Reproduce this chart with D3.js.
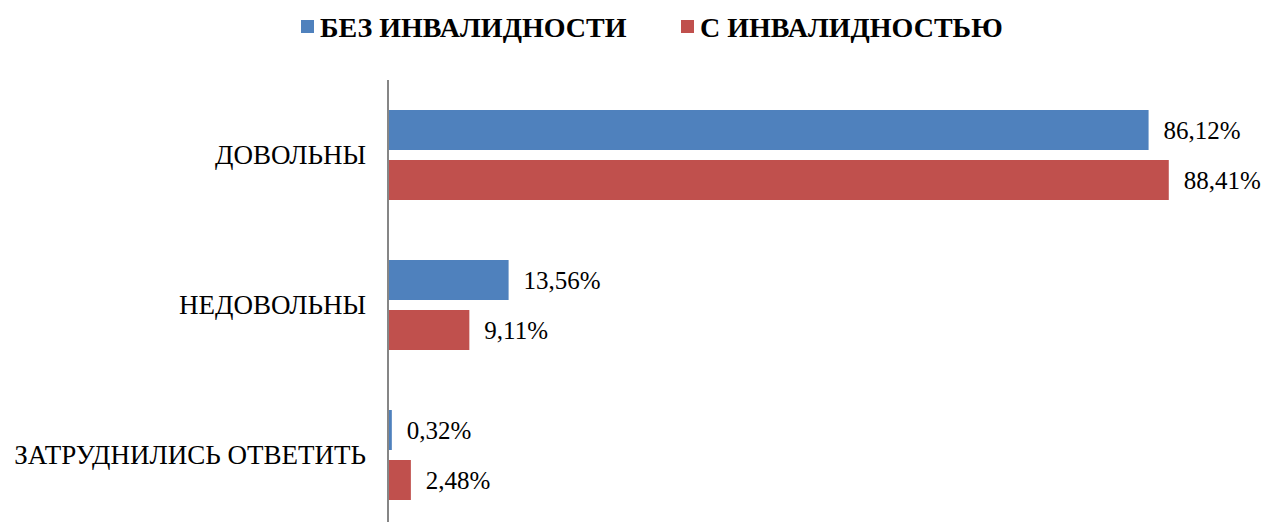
<!DOCTYPE html>
<html lang="ru">
  <head>
    <meta charset="utf-8">
    <title>Довольны / недовольны</title>
    <style>
      body { margin: 0; background: #fff; }
      svg text { font-family: 'Liberation Serif', 'Times New Roman', 'DejaVu Serif', serif; }
    </style>
  </head>
  <body>
    <div id="chart-area"></div>
    <script src="https://cdn.jsdelivr.net/npm/d3@7"></script>
    <script>
      const categories = ['ДОВОЛЬНЫ', 'НЕДОВОЛЬНЫ', 'ЗАТРУДНИЛИСЬ ОТВЕТИТЬ'];
      const series_names = ['БЕЗ ИНВАЛИДНОСТИ', 'С ИНВАЛИДНОСТЬЮ'];
      const no_disability = [86.12, 13.56, 0.32];
      const with_disability = [88.41, 9.11, 2.48];
      const colors = ['#4f81bd', '#c0504d'];

      const svg_width = 1269;
      const svg_height = 522;
      const fmt = v => v.toFixed(2).replace('.', ',') + '%';

      const data = categories.map((c, i) => ({
        cat: c,
        values: [no_disability[i], with_disability[i]]
      }));

      const svg = d3.select('#chart-area')
        .append('svg')
        .attr('width', svg_width)
        .attr('height', svg_height);

      const x_scale = d3.scaleLinear()
        .domain([0, 100])
        .range([389, 1271]);

      const y_scale = d3.scaleBand()
        .domain(categories)
        .range([80, 530]);

      const inner = d3.scaleBand()
        .domain([0, 1])
        .range([30, 120])
        .paddingInner(0.2);

      const groups = svg.selectAll('g.group').data(data).enter()
        .append('g')
        .attr('class', 'group')
        .attr('transform', d => `translate(0,${y_scale(d.cat)})`);

      groups.selectAll('rect')
        .data(d => d.values)
        .enter()
        .append('rect')
        .attr('x', x_scale(0))
        .attr('y', (d, i) => inner(i))
        .attr('width', d => x_scale(d) - x_scale(0))
        .attr('height', inner.bandwidth())
        .attr('fill', (d, i) => colors[i]);

      groups.selectAll('text.val')
        .data(d => d.values)
        .enter()
        .append('text')
        .attr('class', 'val')
        .text(d => fmt(d))
        .attr('x', d => x_scale(d) + 15)
        .attr('y', (d, i) => inner(i) + inner.bandwidth() / 2)
        .attr('dy', '0.34em')
        .attr('font-size', '25px')
        .attr('fill', '#000');

      // category labels
      svg.selectAll('text.cat').data(categories).enter()
        .append('text')
        .attr('class', 'cat')
        .text(d => d)
        .attr('x', 366)
        .attr('y', d => y_scale(d) + y_scale.bandwidth() / 2)
        .attr('dy', '0.34em')
        .attr('text-anchor', 'end')
        .attr('font-size', '27px')
        .attr('fill', '#000');

      // vertical axis line
      svg.append('line')
        .attr('x1', x_scale(0) - 1)
        .attr('x2', x_scale(0) - 1)
        .attr('y1', 80)
        .attr('y2', svg_height)
        .attr('stroke', '#868686')
        .attr('stroke-width', 2);

      // legend
      const legend = svg.append('g');
      const legend_x = [301, 681];
      series_names.forEach((name, i) => {
        legend.append('rect')
          .attr('x', legend_x[i])
          .attr('y', 20)
          .attr('width', 13)
          .attr('height', 13)
          .attr('fill', colors[i]);
        legend.append('text')
          .text(name)
          .attr('x', legend_x[i] + 19)
          .attr('y', 37)
          .attr('font-size', '28px')
          .attr('font-weight', 'bold')
          .attr('fill', '#000');
      });
    </script>
  </body>
</html>
